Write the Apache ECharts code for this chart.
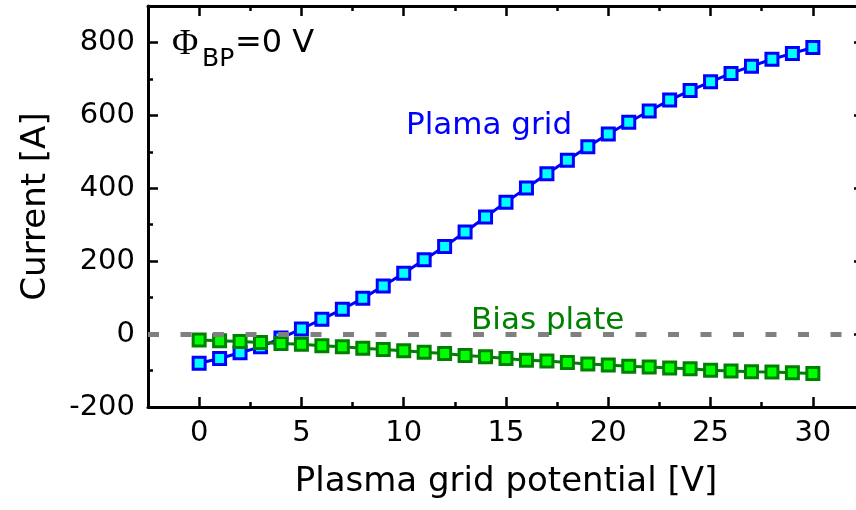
<!DOCTYPE html>
<html><head><meta charset="utf-8">
<script src="https://cdn.jsdelivr.net/npm/echarts@6/dist/echarts.min.js"></script>
<style>html,body{margin:0;padding:0;background:#fff;overflow:hidden;width:856px;height:510px}#c{width:872px;height:510px}</style>
</head><body><div id="c"></div>
<script>
// ---- data ----
const potential = [0,1,2,3,4,5,6,7,8,9,10,11,12,13,14,15,16,17,18,19,20,21,22,23,24,25,26,27,28,29,30];
const plasmaGrid = [-80,-67,-51,-35,-11,14,41,68,98,132,167,204,240,280,321,362,401,440,477,514,549,581,612,642,668,692,715,735,754,770,786];
const biasPlate = [-16,-18,-20,-23,-26,-28,-32,-35,-39,-42,-46,-50,-53,-59,-62,-67,-72,-74,-78,-82,-85,-88,-90,-93,-95,-99,-101,-103,-104,-106,-108];
const xMajorTicks = [0,5,10,15,20,25,30];
const xMinorTicks = [2.5,7.5,12.5,17.5,22.5,27.5];
const yMajorTicks = [-200,0,200,400,600,800];
const yMinorTicks = [-100,100,300,500,700];
const zeroLevel = 0;
const X_MIN = -2.5, X_MAX = 32.5, Y_MIN = -200, Y_MAX = 900;

const FONT = 'DejaVu Sans';
const AXW = 3, TKW = 2.5;

function xAx(pos, ticks, len, line, labels, name) {
  return {
    type: 'value', position: pos, min: X_MIN, max: X_MAX,
    axisLine: { show: line, onZero: false, lineStyle: { color: '#000', width: AXW } },
    axisTick: { show: true, inside: true, length: len, customValues: ticks, lineStyle: { color: '#000', width: TKW } },
    axisLabel: { show: labels, customValues: ticks, margin: 12, color: '#000', fontSize: 29, fontFamily: FONT },
    splitLine: { show: false },
    name: name || '', nameLocation: 'middle', nameGap: 58,
    nameTextStyle: { color: '#000', fontSize: 34, fontFamily: FONT }
  };
}
function yAx(pos, ticks, len, line, labels, name) {
  return {
    type: 'value', position: pos, min: Y_MIN, max: Y_MAX,
    axisLine: { show: line, onZero: false, lineStyle: { color: '#000', width: AXW } },
    axisTick: { show: true, inside: true, length: len, customValues: ticks, lineStyle: { color: '#000', width: TKW } },
    axisLabel: { show: labels, customValues: ticks, margin: 13, color: '#000', fontSize: 29, fontFamily: FONT },
    splitLine: { show: false },
    name: name || '', nameLocation: 'middle', nameGap: 95,
    nameTextStyle: { color: '#000', fontSize: 34, fontFamily: FONT }
  };
}

const chart = echarts.init(document.getElementById('c'), null, { renderer: 'canvas', width: 872, height: 510 });
chart.setOption({
  animation: false,
  backgroundColor: '#fff',
  grid: { left: 148, width: 716, top: 6, height: 401, containLabel: false },
  xAxis: [
    xAx('bottom', xMajorTicks, 10, true, true, 'Plasma grid potential [V]'),
    xAx('bottom', xMinorTicks, 5, false, false),
    xAx('top', xMajorTicks, 10, true, false),
    xAx('top', xMinorTicks, 5, false, false)
  ],
  yAxis: [
    yAx('left', yMajorTicks, 10, true, true, 'Current [A]'),
    yAx('left', yMinorTicks, 5, false, false),
    yAx('right', yMajorTicks, 10, true, false),
    yAx('right', yMinorTicks, 5, false, false)
  ],
  series: [
    {
      type: 'line', data: [], z: 1, silent: true,
      markLine: {
        silent: true, symbol: 'none', label: { show: false },
        lineStyle: { color: '#808080', width: 5, type: [11, 21.5] },
        data: [{ yAxis: zeroLevel }]
      }
    },
    {
      name: 'Plama grid', type: 'line',
      data: potential.map((x, i) => [x, plasmaGrid[i]]),
      symbol: 'rect', symbolSize: 12, z: 3,
      lineStyle: { color: '#0000ff', width: 3 },
      itemStyle: { color: '#00ffff', borderColor: '#0000ff', borderWidth: 3 }
    },
    {
      name: 'Bias plate', type: 'line',
      data: potential.map((x, i) => [x, biasPlate[i]]),
      symbol: 'rect', symbolSize: 12, z: 4,
      lineStyle: { color: '#008000', width: 3 },
      itemStyle: { color: '#00ff00', borderColor: '#008000', borderWidth: 3 }
    }
  ],
  graphic: [
    { type: 'text', z: 10, style: { x: 172, y: 45, text: 'Φ', font: '36px "Liberation Serif"', fill: '#000', textVerticalAlign: 'middle' } },
    { type: 'text', z: 10, style: { x: 202, y: 59, text: 'BP', font: '25px "DejaVu Sans"', fill: '#000', textVerticalAlign: 'middle' } },
    { type: 'text', z: 10, style: { x: 235, y: 43.5, text: '=0 V', font: '32px "DejaVu Sans"', fill: '#000', textVerticalAlign: 'middle' } },
    { type: 'text', z: 10, style: { x: 406, y: 126, text: 'Plama grid', font: '31px "DejaVu Sans"', fill: '#0000ff', textVerticalAlign: 'middle' } },
    { type: 'text', z: 2, style: { x: 457, y: 320.5, text: 'Bias plate', font: '31px "DejaVu Sans"', fill: '#008000', textVerticalAlign: 'middle', backgroundColor: '#fff', padding: [0, 12, 0, 14] } }
  ]
});
</script>
</body></html>
